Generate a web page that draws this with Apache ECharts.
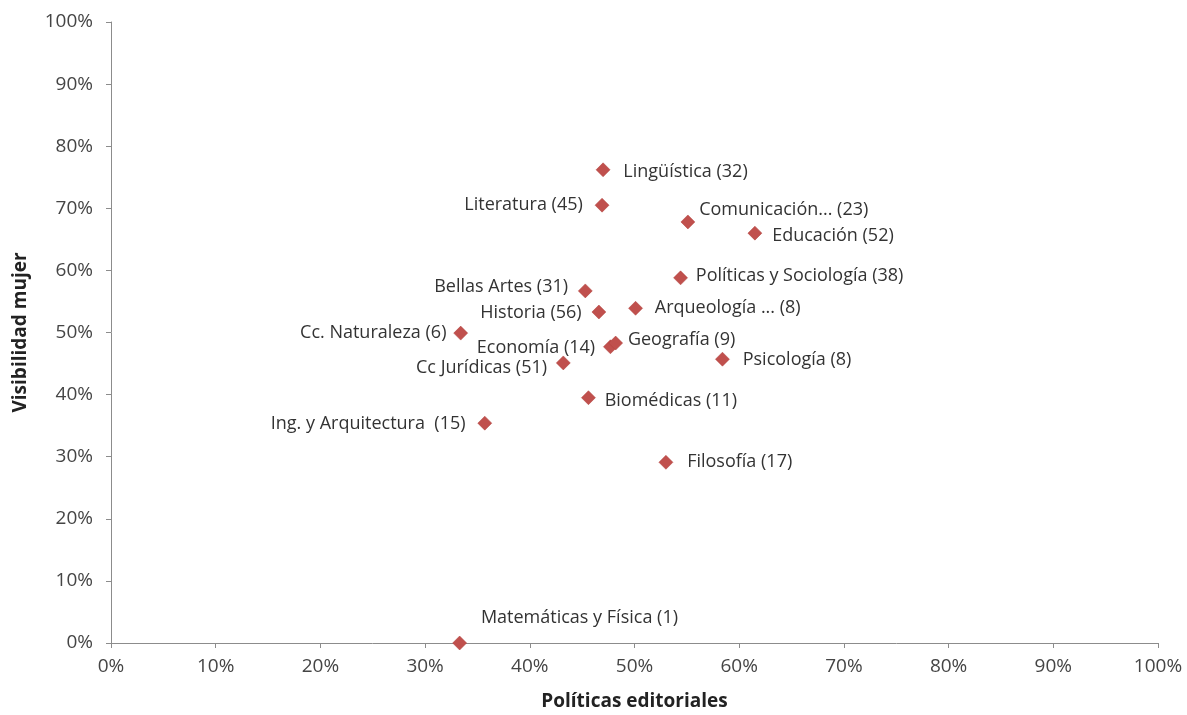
<!DOCTYPE html>
<html>
<head>
<meta charset="utf-8">
<script src="https://cdn.jsdelivr.net/npm/echarts@6/dist/echarts.min.js"></script>
<style>
html,body{margin:0;padding:0;background:#fff;}
#chart{width:1187px;height:715px;}
</style>
</head>
<body>
<div id="chart"></div>
<script>
// Data (values in %)
const names = ["Lingüística", "Literatura", "Comunicación...", "Educación", "Políticas y Sociología",
  "Bellas Artes", "Historia", "Arqueología ...", "Cc. Naturaleza", "Economía", "Geografía",
  "Psicología", "Cc Jurídicas", "Biomédicas", "Ing. y Arquitectura ", "Filosofía", "Matemáticas y Física"];
const counts = [32, 45, 23, 52, 38, 31, 56, 8, 6, 14, 9, 8, 51, 11, 15, 17, 1];
const politicasEditoriales = [47.0, 46.9, 55.1, 61.5, 54.4, 45.3, 46.6, 50.1, 33.4, 47.7, 48.2, 58.4, 43.2, 45.6, 35.7, 53.0, 33.3];
const visibilidadMujer = [76.2, 70.5, 67.8, 66.0, 58.8, 56.7, 53.3, 53.9, 49.9, 47.7, 48.3, 45.7, 45.1, 39.5, 35.4, 29.1, 0];
const xTicks = [0, 10, 20, 30, 40, 50, 60, 70, 80, 90, 100];
const yTicks = [0, 10, 20, 30, 40, 50, 60, 70, 80, 90, 100];

// Label placement (style only): [side, dx, dy]
const labelPlacement = [
  ["right", 8, 2], ["left", -7, 0], ["right", -1, -12], ["right", 5, 3], ["right", 3, -2],
  ["left", -5, -4], ["left", -5, 1], ["right", 7, 0], ["left", -2, 0], ["left", -3, 1], ["right", 0, -3],
  ["right", 8, 1], ["left", -4, 5], ["right", 4, 3], ["left", -7, 1], ["right", 9, 0], ["right", 9, -25]
];

const data = names.map((n, i) => ({
  name: n,
  value: [politicasEditoriales[i], visibilidadMujer[i]],
  label: { position: labelPlacement[i][0] }
}));

const chart = echarts.init(document.getElementById('chart'), null, {renderer: 'canvas'});
const axisFont = { fontFamily: 'Open Sans', fontSize: 19, color: '#454545' };
const titleFont = { fontFamily: 'Open Sans', fontSize: 19, fontWeight: 'bold', color: '#222' };
chart.setOption({
  animation: false,
  backgroundColor: '#ffffff',
  grid: { left: 111, right: 29, top: 22, bottom: 72, containLabel: false, outerBoundsMode: 'none' },
  xAxis: {
    type: 'value', min: xTicks[0], max: xTicks[xTicks.length - 1], interval: 10,
    name: 'Políticas editoriales', nameLocation: 'middle', nameGap: 49,
    nameTextStyle: titleFont,
    axisLine: { show: true, lineStyle: { color: '#8c8c8c', width: 1 } },
    axisTick: { show: true, length: 5, lineStyle: { color: '#8c8c8c' } },
    axisLabel: Object.assign({ margin: 14, formatter: v => v + '%' }, axisFont),
    splitLine: { show: false }
  },
  yAxis: {
    type: 'value', min: yTicks[0], max: yTicks[yTicks.length - 1], interval: 10,
    name: 'Visibilidad mujer', nameLocation: 'middle', nameGap: 81,
    nameTextStyle: titleFont,
    axisLine: { show: true, lineStyle: { color: '#8c8c8c', width: 1 } },
    axisTick: { show: true, length: 5, lineStyle: { color: '#8c8c8c' } },
    axisLabel: Object.assign({ margin: 18, formatter: v => v + '%' }, axisFont),
    splitLine: { show: false }
  },
  series: [{
    type: 'scatter',
    symbol: 'diamond',
    symbolSize: 14,
    itemStyle: { color: '#C0504D', borderColor: '#B0403D', borderWidth: 0.5, opacity: 1 },
    label: {
      show: true,
      fontFamily: 'Open Sans', fontSize: 18, color: '#333',
      formatter: p => p.name + ' (' + counts[p.dataIndex] + ')'
    },
    labelLayout: p => ({ dx: labelPlacement[p.dataIndex][1], dy: labelPlacement[p.dataIndex][2], hideOverlap: false }),
    emphasis: { disabled: true },
    data: data
  }]
});
</script>
</body>
</html>
